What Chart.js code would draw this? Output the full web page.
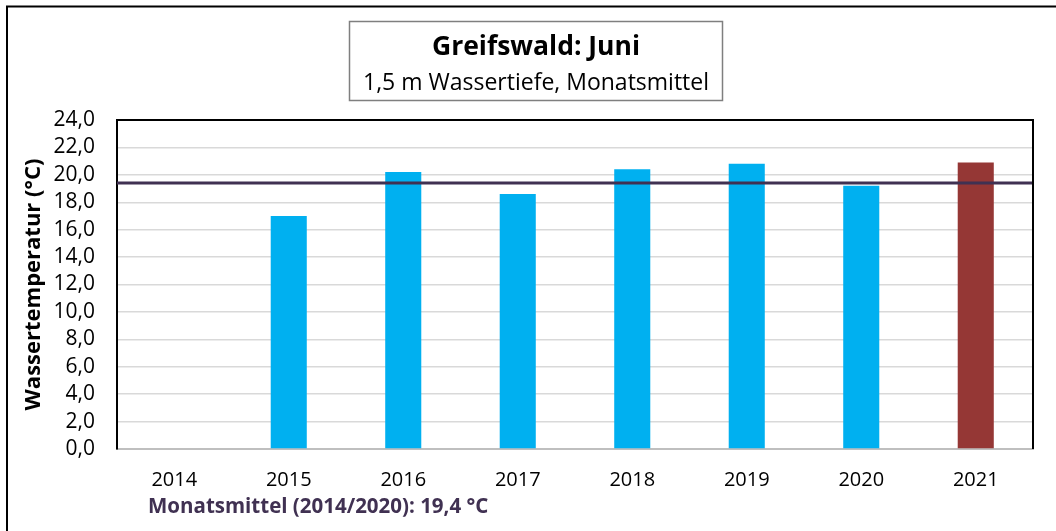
<!DOCTYPE html>
<html>
<head>
<meta charset="utf-8">
<title>Greifswald: Juni</title>
<script src="https://cdn.jsdelivr.net/npm/chart.js@4/dist/chart.umd.min.js"></script>
<style>
  html, body { margin: 0; padding: 0; background: #fff; }
  #wrap { width: 1056px; height: 531px; position: relative; }
</style>
</head>
<body>
<div id="wrap"><canvas id="chart" width="1056" height="531"></canvas></div>
<script>
const YEARS      = ['2014', '2015', '2016', '2017', '2018', '2019', '2020', '2021'];
const TEMPS      = [null, 17.0, 20.2, 18.6, 20.4, 20.8, 19.2, 20.9];
const BAR_COLORS = ['#00B0F0', '#00B0F0', '#00B0F0', '#00B0F0', '#00B0F0', '#00B0F0', '#00B0F0', '#953735'];
const MEAN_VALUE = 19.4;
const TITLE      = 'Greifswald: Juni';
const SUBTITLE   = '1,5 m Wassertiefe, Monatsmittel';
const MEAN_LABEL = 'Monatsmittel (2014/2020): 19,4 °C';

const FONT = "'Open Sans', 'Noto Sans', sans-serif";

// frame, title box, mean line and footer note
const decorPlugin = {
  id: 'decor',
  beforeDraw(chart) {
    const { ctx } = chart;
    ctx.save();
    ctx.strokeStyle = '#000';
    ctx.lineWidth = 2;
    ctx.beginPath();
    ctx.moveTo(7, 531);
    ctx.lineTo(7, 6.5);
    ctx.lineTo(1056, 6.5);
    ctx.stroke();

    ctx.strokeStyle = '#7f7f7f';
    ctx.lineWidth = 1.5;
    ctx.strokeRect(349.5, 21.5, 373, 79);
    ctx.fillStyle = '#000';
    ctx.textAlign = 'center';
    ctx.textBaseline = 'middle';
    ctx.font = `bold 26.5px ${FONT}`;
    ctx.fillText(TITLE, 536, 47);
    ctx.font = `23px ${FONT}`;
    ctx.fillText(SUBTITLE, 536, 83);
    ctx.restore();
  },
  afterDatasetsDraw(chart) {
    const { ctx, chartArea: a, scales: { y } } = chart;
    const yy = y.getPixelForValue(MEAN_VALUE);
    ctx.save();
    ctx.strokeStyle = '#403152';
    ctx.lineWidth = 3;
    ctx.beginPath();
    ctx.moveTo(a.left, yy);
    ctx.lineTo(a.right, yy);
    ctx.stroke();

    ctx.strokeStyle = '#000';
    ctx.lineWidth = 2;
    ctx.beginPath();
    ctx.moveTo(a.left, a.top);
    ctx.lineTo(a.right, a.top);
    ctx.lineTo(a.right, a.bottom);
    ctx.stroke();

    ctx.fillStyle = '#403152';
    ctx.font = `bold 20.5px ${FONT}`;
    ctx.textAlign = 'left';
    ctx.textBaseline = 'middle';
    ctx.fillText(MEAN_LABEL, 148, 507);
    ctx.restore();
  }
};

new Chart(document.getElementById('chart').getContext('2d'), {
  type: 'bar',
  data: {
    labels: YEARS,
    datasets: [{
      label: 'Wassertemperatur',
      data: TEMPS,
      backgroundColor: BAR_COLORS,
      borderWidth: 0,
      barPercentage: 0.315,
      categoryPercentage: 1.0,
    }]
  },
  options: {
    responsive: false,
    animation: false,
    layout: { padding: { left: 8, right: 23, top: 120, bottom: 0 } },
    plugins: {
      legend: { display: false },
      tooltip: { enabled: false },
    },
    scales: {
      x: {
        grid: { display: false, drawTicks: false },
        border: { color: '#BFBFBF', width: 2 },
        ticks: { color: '#000', padding: 19, font: { family: FONT, size: 20 } },
        afterFit: s => { s.height = 82; },
      },
      y: {
        min: 0,
        max: 24,
        ticks: {
          stepSize: 2,
          autoSkip: false,
          color: '#000',
          padding: 22,
          font: { family: FONT, size: 21, lineHeight: 1 },
          callback: v => v.toFixed(1).replace('.', ','),
        },
        grid: { color: '#D9D9D9', lineWidth: 1.5, drawTicks: false },
        border: { color: '#000', width: 2 },
        title: {
          display: true,
          text: 'Wassertemperatur (°C)',
          color: '#000',
          padding: { top: 13, bottom: 0 },
          font: { family: FONT, size: 22, weight: 'bold' },
        },
        afterFit: s => { s.width = 109; },
      }
    }
  },
  plugins: [decorPlugin]
});
</script>
</body>
</html>
